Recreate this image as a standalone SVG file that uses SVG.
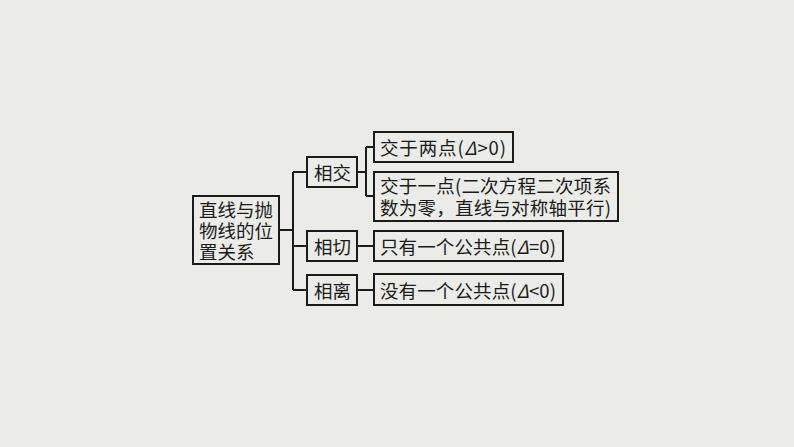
<svg xmlns="http://www.w3.org/2000/svg" width="794" height="447" viewBox="0 0 794 447">
<style>
.b{fill:none;stroke:#1a1a1a;stroke-width:2}
.l{fill:none;stroke:#1a1a1a;stroke-width:2}
text{font-family:"Noto Sans CJK SC","Liberation Serif",serif;font-size:18.5px;fill:#1a1a1a;dominant-baseline:central}
</style>
<rect width="794" height="447" fill="#ebebe8"/>
<g id="connectors">
<path class="l" d="M279 230H293M293 172V290M293 172H307M293 246H307M293 290H307"/>
<path class="l" d="M357 172H366M366 147V196M366 147H374M366 196H374M357 246H374M357 290H374"/>
</g>
<g id="root"><rect class="b" x="193" y="196" width="86" height="68"/>
<text x="199" y="209">直线与抛</text><text x="199" y="230">物线的位</text><text x="199" y="251">置关系</text></g>
<g id="n1"><rect class="b" x="307" y="157" width="50" height="30"/><text x="314" y="172">相交</text></g>
<g id="n2"><rect class="b" x="307" y="231" width="50" height="30"/><text x="314" y="246">相切</text></g>
<g id="n3"><rect class="b" x="307" y="275" width="50" height="30"/><text x="314" y="290">相离</text></g>
<g id="r1"><rect class="b" x="374" y="132" width="139" height="30"/><text x="380" y="147" textLength="126">交于两点(<tspan font-style="italic">Δ</tspan>&gt;0)</text></g>
<g id="r2"><rect class="b" x="374" y="172" width="244" height="49"/><text x="380" y="185" textLength="231">交于一点(二次方程二次项系</text><text x="380" y="207" textLength="231">数为零，直线与对称轴平行)</text></g>
<g id="r3"><rect class="b" x="374" y="231" width="189" height="30"/><text x="380" y="246" textLength="176">只有一个公共点(<tspan font-style="italic">Δ</tspan>=0)</text></g>
<g id="r4"><rect class="b" x="374" y="274" width="189" height="31"/><text x="380" y="290" textLength="176">没有一个公共点(<tspan font-style="italic">Δ</tspan>&lt;0)</text></g>
</svg>
